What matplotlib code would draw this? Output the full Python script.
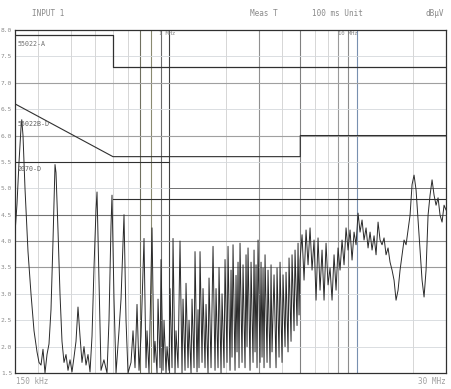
import matplotlib
matplotlib.use("Agg")
import matplotlib.pyplot as plt
import numpy as np

# ---------------- data ----------------
freq_mhz = [
    0.150, 0.1537, 0.1576, 0.1615, 0.1630, 0.1655, 0.1696, 0.1760, 0.1826, 0.1895,
    0.1966, 0.2015, 0.2065, 0.2116, 0.2169, 0.2223, 0.2278, 0.2335, 0.2393, 0.2453,
    0.2483, 0.2545, 0.2608, 0.2673, 0.2740, 0.2808, 0.2878, 0.2950, 0.3023, 0.3098,
    0.3175, 0.3254, 0.3335, 0.3418, 0.3503, 0.3591, 0.3680, 0.3772, 0.3866, 0.3962,
    0.4061, 0.4111, 0.4213, 0.4318, 0.4476, 0.4648, 0.4764, 0.4883, 0.4943, 0.5066,
    0.5193, 0.5387, 0.5522, 0.5659, 0.5729, 0.5872,
    0.6018, 0.6244, 0.640, 0.6559, 0.6722, 0.689, 0.7061, 0.7326, 0.7509, 0.7602,
    0.7791, 0.8083, 0.8285, 0.8387, 0.8596, 0.8703, 0.8919, 0.9030, 0.9254, 0.9369,
    0.9602, 0.9721, 0.9963, 1.0086, 1.0337, 1.0465, 1.0725, 1.0858, 1.1128, 1.1405,
    1.1689, 1.1834, 1.2129, 1.2279, 1.2585, 1.2741, 1.3058, 1.3219, 1.3548, 1.3715,
    1.4056, 1.4231, 1.4406, 1.4585, 1.4948, 1.5133, 1.5510, 1.5702, 1.6093, 1.6292,
    1.6698, 1.7113, 1.7539, 1.7756, 1.8198, 1.8423, 1.8882, 1.9116, 1.9590, 1.9834,
    2.0328, 2.0580, 2.1091, 2.1353, 2.1616, 2.1884, 2.2428, 2.2706, 2.2987, 2.3271,
    2.3558, 2.3850, 2.4444, 2.4747, 2.5363, 2.5677, 2.5995, 2.6317, 2.6971, 2.7305,
    2.7985, 2.8332, 2.8681, 2.9037, 2.9395, 2.9759, 3.0499, 3.0877, 3.1259, 3.1646,
    3.2037, 3.2433, 3.3241, 3.3652, 3.4489, 3.4917, 3.5348, 3.6228, 3.7131, 3.7590,
    3.8526, 3.9002, 3.9973, 4.0469, 4.1475, 4.1989, 4.3034, 4.3566, 4.4651, 4.5203,
    4.6327, 4.6900, 4.8068, 4.8664, 4.9266,
    4.9874, 5.1116, 5.2388, 5.3695, 5.5030, 5.6399, 5.7803, 5.9241, 6.0719, 6.2229,
    6.3777, 6.5365, 6.6992, 6.8662, 7.0372, 7.2121, 7.3917, 7.5758, 7.7644, 7.9577,
    8.1557, 8.3588, 8.5671, 8.7798, 8.9984, 9.2226, 9.4522, 9.6874, 9.9290, 10.176,
    10.429, 10.689, 10.955, 11.228, 11.508, 11.794, 12.088, 12.389, 12.697, 13.014,
    13.336, 13.668, 14.009, 14.358, 14.715, 15.081, 15.456, 15.841, 16.236, 16.640,
    17.054, 17.479, 17.914, 18.360, 18.816, 19.285, 19.765, 20.257, 20.762, 21.279,
    21.808, 22.351, 22.908, 23.478, 24.062, 24.661, 25.276, 25.905, 26.550, 27.211,
    27.888, 28.582, 29.294, 30.0,
]
level_dbuv = [
    41.5, 47.0, 55.0, 61.5, 63.0, 60.0, 50.0, 38.0, 30.0, 23.0,
    19.0, 17.0, 16.5, 19.5, 15.0, 18.5, 20.5, 27.0, 40.0, 54.5,
    53.0, 42.0, 30.0, 21.0, 17.0, 18.5, 15.5, 17.5, 15.2, 18.0,
    21.0, 27.5, 22.0, 17.0, 20.0, 16.5, 18.5, 15.2, 22.0, 35.0,
    46.0, 49.3, 32.0, 15.5, 17.5, 15.0, 25.0, 43.0, 48.7, 29.0,
    15.0, 23.0, 29.0, 40.0, 45.0, 25.0,
    15.0, 17.0, 23.0, 16.0, 28.0, 15.5, 22.0, 40.5, 16.0, 23.0,
    15.0, 42.5, 17.0, 21.0, 15.0, 29.0, 16.0, 36.5, 15.5, 25.0,
    15.0, 20.0, 15.5, 31.0, 16.0, 40.5, 15.0, 23.0, 16.0, 40.0,
    15.0, 29.0, 15.5, 32.0, 16.0, 25.0, 15.0, 29.0, 16.0, 38.0,
    15.2, 27.0, 16.0, 38.0, 17.0, 31.0, 16.0, 28.0, 15.0, 33.0,
    16.0, 39.0, 15.5, 31.0, 16.0, 35.0, 15.0, 30.0, 16.0, 36.5,
    17.0, 39.0, 15.5, 34.5, 18.0, 39.3, 15.5, 33.5, 19.0, 36.0,
    16.0, 39.6, 17.0, 35.5, 16.0, 37.4, 20.0, 38.7, 15.5, 36.0,
    17.0, 38.3, 19.0, 35.5, 16.0, 40.2, 17.0, 36.0, 18.0, 34.9,
    16.0, 37.4, 17.0, 34.5, 16.0, 35.5, 19.0, 33.6, 16.0, 34.9,
    18.0, 36.0, 17.0, 33.6, 20.0, 34.1, 19.0, 36.8, 21.0, 37.4,
    23.0, 38.3, 24.0, 39.6, 26.0,
    36.4, 41.2, 32.6, 42.1, 35.5, 42.5, 34.5, 40.2, 28.8, 40.6,
    30.7, 38.3, 28.8, 39.6, 31.7, 34.9, 28.8, 37.4, 30.7, 38.7,
    34.5, 40.2, 35.5, 42.5, 38.3, 42.1, 36.4, 41.7, 39.3, 45.3,
    41.7, 44.0, 40.2, 42.5, 38.7, 41.7, 38.3, 41.0, 37.4, 43.6,
    40.2, 39.3, 40.6, 37.4, 38.7, 36.0, 34.5, 32.6, 28.8, 30.7,
    34.5, 37.4, 40.2, 39.3, 42.1, 44.9, 50.7, 52.5, 49.7, 44.0,
    38.3, 32.6, 29.4, 34.5, 44.9, 48.7, 51.6, 48.7, 46.8, 48.2,
    44.9, 43.6, 46.8, 45.9,
]

limit_a_freq = [0.15, 0.5, 0.5, 30.0]
limit_a_level = [79, 79, 73, 73]
limit_b_freq = [0.15, 0.5, 0.5, 5.0, 5.0, 30.0]
limit_b_level = [66, 56, 56, 56, 60, 60]
limit_c1_freq = [0.15, 1.0]
limit_c1_level = [55, 55]
limit_c2_freq = [0.5, 30.0]
limit_c2_level = [48, 48]
limit_c3_freq = [1.0, 30.0]
limit_c3_level = [50, 50]

y_ticks = [15, 20, 25, 30, 35, 40, 45, 50, 55, 60, 65, 70, 75, 80]
y_ticklabels = ["1.5", "2.0", "2.5", "3.0", "3.5", "4.0", "4.5", "5.0",
                "5.5", "6.0", "6.5", "7.0", "7.5", "8.0"]
grid_freqs = [0.2, 0.3, 0.4, 0.5, 0.6, 0.7, 0.8, 0.9, 1, 2, 3, 4, 5, 6, 7, 8, 9, 10, 20]

# ---------------- figure ----------------
W, H = 451, 389
fig = plt.figure(figsize=(W / 100, H / 100), dpi=100)
fig.patch.set_facecolor("white")
ax = fig.add_axes([15 / W, 1 - 373 / H, (446 - 15) / W, (373 - 30) / H])
ax.set_xscale("log")
ax.set_xlim(0.15, 30)
ax.set_ylim(15, 80)

mono = "DejaVu Sans Mono"
tc = "#8a8a8a"

# grid
dark_v = {0.7: "#707060", 0.8: "#8a8a70", 0.9: "#6a6a6a", 1: "#404040", 3: "#909090",
          5: "#808080", 8: "#9a9a9a", 9: "#8c8c8c", 10: "#7890b0"}
for f in grid_freqs:
    c = dark_v.get(f, "#d0d0d0")
    ax.axvline(f, color=c, lw=0.8 if f in dark_v else 0.6, zorder=1)
dark_h = {70: "#a0a0a0", 60: "#a0a0a0", 45: "#707070", 40: "#8a8a8a", 35: "#9a9a9a"}
for yv in y_ticks[1:-1]:
    c = dark_h.get(yv, "#d4d8dc")
    ax.axhline(yv, color=c, lw=0.8 if yv in dark_h else 0.6, zorder=1)

# limit lines
lc = "#303030"
ax.plot(limit_a_freq, limit_a_level, color=lc, lw=0.9, zorder=2)
ax.plot(limit_b_freq, limit_b_level, color=lc, lw=0.8, zorder=2)
ax.plot(limit_c1_freq, limit_c1_level, color=lc, lw=0.8, zorder=2)
ax.plot(limit_c2_freq, limit_c2_level, color=lc, lw=0.8, zorder=2)
ax.plot(limit_c3_freq, limit_c3_level, color="#606060", lw=0.6, zorder=2)

# measurement trace
ax.plot(freq_mhz, level_dbuv, color="#2a2a2a", lw=0.7, zorder=3)

# axes styling
for s in ax.spines.values():
    s.set_color("#303030")
    s.set_linewidth(0.9)
ax.set_yticks(y_ticks)
ax.set_yticklabels(y_ticklabels, fontsize=4.5, color=tc, family=mono)
ax.set_xticks([])
ax.minorticks_off()
ax.tick_params(axis="y", length=0, pad=2)
ax.xaxis.set_minor_locator(matplotlib.ticker.NullLocator())

# limit labels
ax.text(0.155, 77, "55022-A", fontsize=4.8, color="#707070", family=mono, zorder=4)
ax.text(0.155, 61.8, "55022B-D", fontsize=4.8, color="#606060", family=mono, zorder=4)
ax.text(0.155, 53.2, "2070-D", fontsize=4.8, color="#606060", family=mono, zorder=4)
ax.text(0.88, 79.0, "1 MHz", fontsize=4, color="#808080", family=mono, zorder=4)
ax.text(8.0, 79.0, "10 MHz", fontsize=4, color="#808080", family=mono, zorder=4)

# header / footer text
fig.text(32 / W, 1 - 14 / H, "INPUT 1", fontsize=5.5, color=tc, family=mono, va="center")
fig.text(250 / W, 1 - 14 / H, "Meas T", fontsize=5.5, color=tc, family=mono, va="center")
fig.text(312 / W, 1 - 14 / H, "100 ms Unit", fontsize=5.5, color=tc, family=mono, va="center")
fig.text(425 / W, 1 - 14 / H, "dBµV", fontsize=5.5, color=tc, family=mono, va="center")
fig.text(16 / W, 1 - 382 / H, "150 kHz", fontsize=5.5, color="#a0a0a0", family=mono, va="center")
fig.text(446 / W, 1 - 382 / H, "30 MHz", fontsize=5.5, color="#a0a0a0", family=mono,
         va="center", ha="right")

fig.savefig("out.png", dpi=100, facecolor="white")
